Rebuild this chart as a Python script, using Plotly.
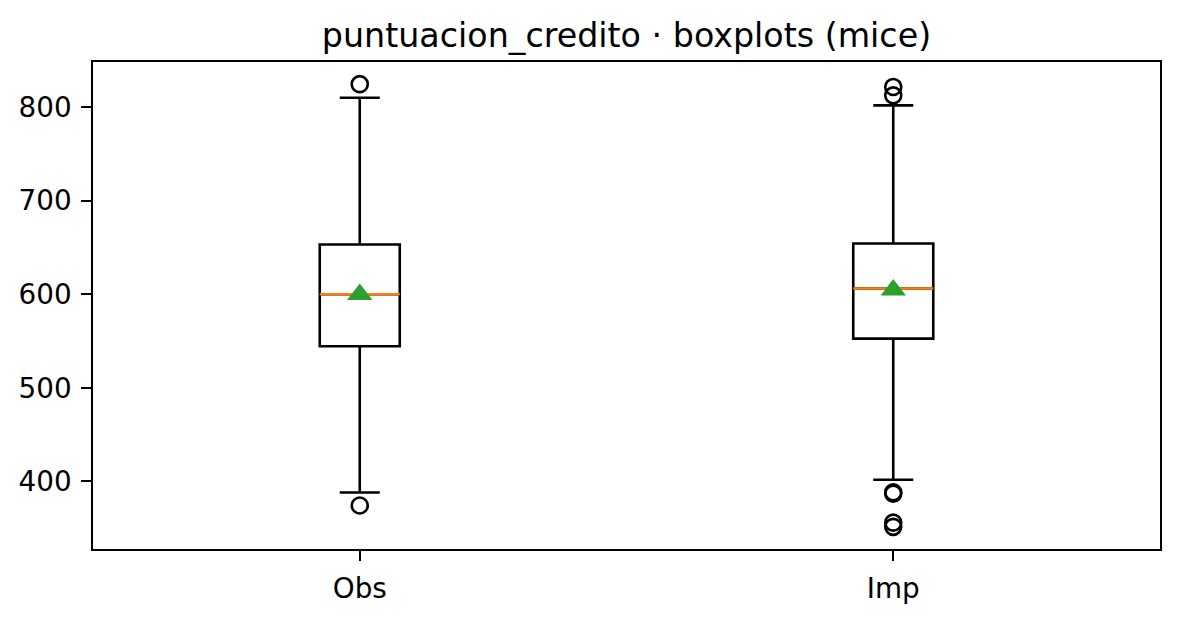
import plotly.graph_objects as go

# ---- data ----
categories = ["Obs", "Imp"]
positions = [1, 2]
q1 = [544.4, 552.6]
median = [600.0, 606.1]
q3 = [653.2, 654.2]
lower_whisker = [388.2, 401.8]
upper_whisker = [810.0, 801.8]
means = [599.7, 604.6]
outliers_obs = [374.3, 824.5]
outliers_imp = [351.5, 356.0, 387.0, 388.5, 812.5, 821.5]

title_text = "puntuacion_credito · boxplots (mice)"

BOX_W = 0.15
FONT = "DejaVu Sans"
LW = 2.6

fig = go.Figure()

# boxes with whiskers
for i, cat in enumerate(categories):
    fig.add_trace(go.Box(
        x=[positions[i]], q1=[q1[i]], median=[median[i]], q3=[q3[i]],
        lowerfence=[lower_whisker[i]], upperfence=[upper_whisker[i]],
        width=BOX_W, whiskerwidth=0.5,
        line=dict(color="black", width=LW), fillcolor="rgba(0,0,0,0)",
        boxpoints=False, showlegend=False, name=cat, hoverinfo="skip",
    ))

# orange median lines
for i in range(len(categories)):
    fig.add_trace(go.Scatter(
        x=[positions[i] - BOX_W / 2, positions[i] + BOX_W / 2],
        y=[median[i], median[i]], mode="lines",
        line=dict(color="#ff7f0e", width=LW), showlegend=False, hoverinfo="skip",
    ))

# outliers
outliers = [outliers_obs, outliers_imp]
for i in range(len(categories)):
    fig.add_trace(go.Scatter(
        x=[positions[i]] * len(outliers[i]), y=outliers[i], mode="markers",
        marker=dict(symbol="circle-open", size=16, color="black", line=dict(width=2.6)),
        showlegend=False, hoverinfo="skip",
    ))

# green mean triangles
fig.add_trace(go.Scatter(
    x=positions, y=means, mode="markers",
    marker=dict(symbol="triangle-up", size=22, color="#2ca02c", line=dict(width=0)),
    showlegend=False, hoverinfo="skip",
))

all_vals = outliers_obs + outliers_imp + lower_whisker + upper_whisker
lo, hi = min(all_vals), max(all_vals)
pad = 0.05 * (hi - lo)

fig.update_layout(
    width=1180, height=617,
    margin=dict(l=93, r=20, t=62, b=68),
    paper_bgcolor="white", plot_bgcolor="white",
    font=dict(family=FONT, size=27.8, color="black"),
    title=dict(text=title_text, xref="paper", x=0.5, xanchor="center",
               yref="container", y=1 - 35 / 617,
               yanchor="middle", font=dict(size=33.3, family=FONT, color="black")),
    boxmode="overlay",
)
fig.update_xaxes(
    range=[0.5, 2.5], tickvals=positions, ticktext=categories,
    showline=True, linecolor="black", linewidth=2.2, mirror=True,
    ticks="outside", ticklen=9.7, tickwidth=2.2, tickcolor="black",
    showgrid=False, zeroline=False, tickfont=dict(size=27.8, family=FONT),
    ticklabelstandoff=4,
)
fig.update_yaxes(
    range=[lo - pad, hi + pad], tickvals=[400, 500, 600, 700, 800],
    showline=True, linecolor="black", linewidth=2.2, mirror=True,
    ticks="outside", ticklen=9.7, tickwidth=2.2, tickcolor="black",
    showgrid=False, zeroline=False, tickfont=dict(size=27.8, family=FONT),
    ticklabelstandoff=4,
)

fig.write_html("out.html")
